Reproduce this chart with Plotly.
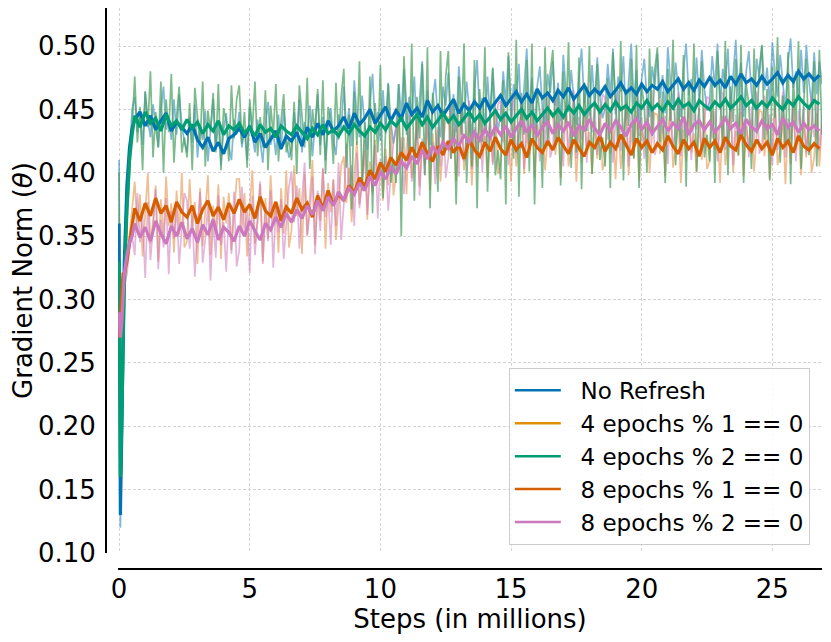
import plotly.graph_objects as go

# sample positions (millions of steps)
early_steps = [0, 0.05, 0.1, 0.15, 0.2, 0.3, 0.4, 0.5]
raw_steps = early_steps + [round(0.6 + 0.1 * i, 1) for i in range(264)]
smooth_steps = early_steps + [round(0.6 + 0.2 * i, 1) for i in range(132)]

# ---- raw (light) series, every 0.1M steps ----
no_refresh_raw = [0.41, 0.12, 0.18, 0.25, 0.31, 0.38, 0.42, 0.45,
    0.460, 0.432, 0.446, 0.422, 0.464, 0.442, 0.428, 0.454, 0.436, 0.420, 0.450, 0.468, 0.434, 0.444, 0.426, 0.458, 0.430, 0.462, 0.438, 0.424,
    0.416, 0.444, 0.424, 0.454, 0.412, 0.436, 0.426, 0.449, 0.409, 0.433, 0.458, 0.418, 0.440, 0.406, 0.434, 0.447, 0.421, 0.410, 0.442, 0.430,
    0.448, 0.420, 0.434, 0.410, 0.452, 0.430, 0.416, 0.442, 0.424, 0.408, 0.438, 0.456, 0.422, 0.432, 0.414, 0.446, 0.418, 0.450, 0.426, 0.412,
    0.420, 0.448, 0.428, 0.458, 0.416, 0.440, 0.430, 0.453, 0.413, 0.437, 0.462, 0.422, 0.444, 0.410, 0.438, 0.451, 0.425, 0.414, 0.446, 0.434,
    0.468, 0.433, 0.451, 0.421, 0.473, 0.445, 0.428, 0.461, 0.438, 0.418, 0.455, 0.478, 0.435, 0.448, 0.425, 0.465, 0.431, 0.471, 0.440, 0.423,
    0.435, 0.470, 0.445, 0.482, 0.430, 0.460, 0.448, 0.476, 0.426, 0.456, 0.488, 0.438, 0.465, 0.422, 0.458, 0.474, 0.441, 0.428, 0.468, 0.453,
    0.479, 0.444, 0.462, 0.432, 0.484, 0.456, 0.439, 0.472, 0.449, 0.429, 0.466, 0.489, 0.446, 0.459, 0.436, 0.476, 0.442, 0.482, 0.451, 0.434,
    0.445, 0.480, 0.455, 0.492, 0.440, 0.470, 0.458, 0.486, 0.436, 0.466, 0.498, 0.448, 0.475, 0.432, 0.468, 0.484, 0.451, 0.438, 0.478, 0.463,
    0.488, 0.453, 0.471, 0.441, 0.493, 0.465, 0.448, 0.481, 0.458, 0.438, 0.475, 0.498, 0.455, 0.468, 0.445, 0.485, 0.451, 0.491, 0.460, 0.443,
    0.451, 0.486, 0.461, 0.498, 0.446, 0.476, 0.464, 0.492, 0.442, 0.472, 0.502, 0.454, 0.481, 0.438, 0.474, 0.490, 0.457, 0.444, 0.484, 0.469,
    0.494, 0.459, 0.477, 0.447, 0.499, 0.471, 0.454, 0.487, 0.464, 0.444, 0.481, 0.502, 0.461, 0.474, 0.451, 0.491, 0.457, 0.497, 0.466, 0.449,
    0.457, 0.492, 0.467, 0.502, 0.452, 0.482, 0.470, 0.498, 0.448, 0.478, 0.505, 0.460, 0.487, 0.444, 0.480, 0.496, 0.463, 0.450, 0.490, 0.475,
    0.500, 0.465, 0.483, 0.453, 0.503, 0.477, 0.460, 0.493, 0.470, 0.450, 0.487, 0.506, 0.467, 0.480, 0.457, 0.497, 0.463, 0.501, 0.472, 0.455,
    0.495, 0.462, 0.488, 0.470]

e4m2_raw = [0.40, 0.15, 0.17, 0.24, 0.30, 0.36, 0.40, 0.44,
    0.476, 0.424, 0.452, 0.402, 0.464, 0.436, 0.480, 0.412, 0.448, 0.420, 0.472, 0.400, 0.458, 0.432, 0.478, 0.408, 0.444, 0.468, 0.416, 0.428,
    0.412, 0.455, 0.402, 0.467, 0.444, 0.421, 0.472, 0.405, 0.449, 0.432, 0.463, 0.416, 0.470, 0.402, 0.451, 0.441, 0.409, 0.469, 0.427, 0.458,
    0.469, 0.423, 0.448, 0.404, 0.458, 0.434, 0.472, 0.413, 0.444, 0.420, 0.465, 0.402, 0.453, 0.430, 0.470, 0.409, 0.441, 0.462, 0.416, 0.427,
    0.410, 0.456, 0.399, 0.469, 0.445, 0.420, 0.475, 0.403, 0.450, 0.431, 0.466, 0.414, 0.473, 0.399, 0.452, 0.441, 0.407, 0.471, 0.426, 0.460,
    0.482, 0.404, 0.446, 0.371, 0.464, 0.422, 0.488, 0.386, 0.440, 0.398, 0.476, 0.368, 0.455, 0.416, 0.485, 0.380, 0.434, 0.470, 0.392, 0.410,
    0.392, 0.470, 0.350, 0.492, 0.450, 0.408, 0.502, 0.378, 0.460, 0.427, 0.486, 0.398, 0.499, 0.372, 0.463, 0.444, 0.385, 0.496, 0.418, 0.476,
    0.496, 0.411, 0.457, 0.375, 0.476, 0.430, 0.502, 0.392, 0.450, 0.405, 0.489, 0.372, 0.466, 0.424, 0.499, 0.385, 0.444, 0.483, 0.398, 0.418,
    0.395, 0.473, 0.375, 0.495, 0.453, 0.411, 0.505, 0.381, 0.463, 0.430, 0.489, 0.401, 0.502, 0.375, 0.466, 0.447, 0.388, 0.499, 0.421, 0.479,
    0.497, 0.422, 0.462, 0.390, 0.480, 0.439, 0.503, 0.404, 0.457, 0.416, 0.491, 0.387, 0.471, 0.433, 0.500, 0.399, 0.451, 0.486, 0.410, 0.428,
    0.405, 0.475, 0.388, 0.495, 0.458, 0.420, 0.504, 0.394, 0.466, 0.437, 0.490, 0.411, 0.501, 0.388, 0.469, 0.452, 0.400, 0.498, 0.429, 0.481,
    0.499, 0.424, 0.464, 0.392, 0.482, 0.441, 0.505, 0.406, 0.459, 0.418, 0.493, 0.389, 0.473, 0.435, 0.502, 0.401, 0.453, 0.488, 0.412, 0.430,
    0.409, 0.476, 0.392, 0.496, 0.459, 0.423, 0.504, 0.398, 0.468, 0.440, 0.490, 0.414, 0.501, 0.392, 0.470, 0.454, 0.403, 0.498, 0.431, 0.482,
    0.501, 0.426, 0.466, 0.394, 0.484, 0.443, 0.507, 0.408, 0.461, 0.420, 0.495, 0.391, 0.475, 0.437, 0.504, 0.403, 0.455, 0.490, 0.414, 0.432,
    0.488, 0.405, 0.497, 0.430]

e4m1_raw = [0.30, 0.28, 0.30, 0.31, 0.32, 0.33, 0.35, 0.37,
    0.393, 0.355, 0.383, 0.334, 0.372, 0.400, 0.344, 0.362, 0.390, 0.330, 0.379, 0.348, 0.397, 0.358, 0.376, 0.337, 0.386, 0.351, 0.400, 0.341,
    0.346, 0.395, 0.356, 0.377, 0.328, 0.388, 0.342, 0.367, 0.398, 0.335, 0.374, 0.352, 0.391, 0.332, 0.381, 0.360, 0.384, 0.339, 0.370, 0.395,
    0.395, 0.355, 0.384, 0.334, 0.373, 0.402, 0.344, 0.362, 0.391, 0.330, 0.380, 0.348, 0.398, 0.359, 0.377, 0.337, 0.388, 0.352, 0.402, 0.341,
    0.355, 0.406, 0.366, 0.388, 0.336, 0.399, 0.351, 0.377, 0.410, 0.343, 0.384, 0.362, 0.403, 0.340, 0.392, 0.369, 0.395, 0.347, 0.380, 0.406,
    0.413, 0.376, 0.404, 0.361, 0.397, 0.425, 0.375, 0.392, 0.418, 0.363, 0.409, 0.385, 0.426, 0.394, 0.405, 0.378, 0.419, 0.390, 0.437, 0.382,
    0.399, 0.444, 0.409, 0.428, 0.383, 0.437, 0.396, 0.418, 0.447, 0.389, 0.425, 0.406, 0.441, 0.386, 0.431, 0.412, 0.434, 0.393, 0.421, 0.444,
    0.444, 0.411, 0.435, 0.393, 0.426, 0.450, 0.402, 0.417, 0.441, 0.390, 0.432, 0.405, 0.447, 0.414, 0.429, 0.396, 0.438, 0.408, 0.450, 0.399,
    0.408, 0.450, 0.417, 0.435, 0.393, 0.444, 0.405, 0.426, 0.453, 0.399, 0.432, 0.414, 0.447, 0.396, 0.438, 0.420, 0.441, 0.402, 0.429, 0.450,
    0.447, 0.414, 0.438, 0.396, 0.429, 0.453, 0.405, 0.420, 0.444, 0.393, 0.435, 0.408, 0.450, 0.417, 0.432, 0.399, 0.441, 0.411, 0.453, 0.402,
    0.410, 0.448, 0.415, 0.437, 0.395, 0.442, 0.403, 0.428, 0.451, 0.398, 0.434, 0.412, 0.449, 0.394, 0.436, 0.422, 0.443, 0.400, 0.431, 0.447,
    0.446, 0.415, 0.437, 0.397, 0.430, 0.452, 0.404, 0.421, 0.443, 0.392, 0.434, 0.409, 0.449, 0.416, 0.431, 0.400, 0.440, 0.410, 0.452, 0.403,
    0.409, 0.449, 0.418, 0.434, 0.392, 0.445, 0.406, 0.425, 0.452, 0.400, 0.433, 0.413, 0.448, 0.397, 0.437, 0.421, 0.442, 0.401, 0.430, 0.449,
    0.448, 0.413, 0.439, 0.395, 0.428, 0.454, 0.406, 0.419, 0.445, 0.391, 0.436, 0.407, 0.451, 0.418, 0.433, 0.398, 0.442, 0.412, 0.454, 0.400,
    0.412, 0.447, 0.405, 0.438]

e8m2_raw = [0.28, 0.26, 0.28, 0.30, 0.31, 0.32, 0.34, 0.35,
    0.335, 0.384, 0.345, 0.366, 0.317, 0.377, 0.331, 0.356, 0.387, 0.324, 0.363, 0.341, 0.380, 0.320, 0.370, 0.348, 0.373, 0.328, 0.359, 0.384,
    0.378, 0.340, 0.368, 0.318, 0.357, 0.385, 0.329, 0.347, 0.375, 0.315, 0.364, 0.333, 0.382, 0.343, 0.361, 0.322, 0.371, 0.336, 0.385, 0.326,
    0.339, 0.389, 0.350, 0.371, 0.321, 0.382, 0.335, 0.361, 0.393, 0.328, 0.368, 0.346, 0.386, 0.325, 0.375, 0.353, 0.379, 0.332, 0.364, 0.389,
    0.401, 0.361, 0.390, 0.340, 0.379, 0.408, 0.350, 0.368, 0.397, 0.336, 0.386, 0.354, 0.404, 0.365, 0.383, 0.343, 0.394, 0.358, 0.408, 0.347,
    0.375, 0.423, 0.385, 0.406, 0.358, 0.416, 0.372, 0.395, 0.426, 0.367, 0.402, 0.383, 0.422, 0.364, 0.411, 0.391, 0.413, 0.370, 0.399, 0.424,
    0.438, 0.402, 0.428, 0.383, 0.418, 0.446, 0.393, 0.410, 0.436, 0.382, 0.427, 0.398, 0.443, 0.408, 0.424, 0.391, 0.436, 0.405, 0.450, 0.396,
    0.412, 0.454, 0.421, 0.439, 0.397, 0.448, 0.409, 0.430, 0.457, 0.403, 0.436, 0.418, 0.451, 0.400, 0.442, 0.424, 0.445, 0.406, 0.433, 0.454,
    0.457, 0.424, 0.448, 0.406, 0.439, 0.463, 0.415, 0.430, 0.454, 0.403, 0.445, 0.418, 0.460, 0.427, 0.442, 0.409, 0.451, 0.421, 0.463, 0.412,
    0.420, 0.462, 0.429, 0.447, 0.405, 0.456, 0.417, 0.438, 0.465, 0.411, 0.444, 0.426, 0.459, 0.408, 0.450, 0.432, 0.453, 0.414, 0.441, 0.462,
    0.459, 0.426, 0.450, 0.408, 0.441, 0.465, 0.417, 0.432, 0.456, 0.405, 0.447, 0.420, 0.462, 0.429, 0.444, 0.411, 0.453, 0.423, 0.465, 0.414,
    0.422, 0.460, 0.431, 0.445, 0.407, 0.454, 0.419, 0.436, 0.463, 0.413, 0.442, 0.428, 0.457, 0.410, 0.448, 0.434, 0.451, 0.416, 0.443, 0.460,
    0.458, 0.427, 0.449, 0.409, 0.440, 0.464, 0.418, 0.431, 0.455, 0.406, 0.446, 0.421, 0.461, 0.430, 0.443, 0.412, 0.452, 0.424, 0.464, 0.415,
    0.421, 0.461, 0.430, 0.446, 0.406, 0.455, 0.418, 0.437, 0.464, 0.412, 0.443, 0.427, 0.458, 0.409, 0.449, 0.433, 0.452, 0.415, 0.442, 0.461,
    0.428, 0.455, 0.417, 0.446]

# ---- smoothed (dark) series, every 0.2M steps ----
no_refresh = [0.36, 0.13, 0.19, 0.27, 0.33, 0.39, 0.42, 0.435,
    0.442, 0.448, 0.437, 0.445, 0.434, 0.441, 0.447, 0.433, 0.440, 0.436,
    0.431, 0.438, 0.426, 0.420, 0.428, 0.417, 0.424, 0.415, 0.427, 0.430,
    0.435, 0.428, 0.437, 0.424, 0.431, 0.420, 0.427, 0.433, 0.419, 0.429,
    0.425, 0.432, 0.421, 0.436, 0.428, 0.439, 0.430, 0.441, 0.433, 0.437,
    0.444, 0.435, 0.447, 0.438, 0.443, 0.450, 0.439, 0.446, 0.452, 0.441,
    0.449, 0.443, 0.455, 0.446, 0.451, 0.444, 0.457, 0.448, 0.453, 0.445,
    0.452, 0.458, 0.447, 0.454, 0.449, 0.456, 0.451, 0.459, 0.450, 0.455,
    0.461, 0.453, 0.458, 0.464, 0.456, 0.462, 0.455, 0.466, 0.459, 0.463,
    0.457, 0.465, 0.460, 0.467, 0.458, 0.463, 0.469, 0.461, 0.466, 0.462,
    0.468, 0.460, 0.465, 0.471, 0.463, 0.467, 0.462, 0.470, 0.464, 0.469,
    0.466, 0.472, 0.464, 0.469, 0.474, 0.466, 0.471, 0.465, 0.473, 0.468,
    0.475, 0.469, 0.473, 0.467, 0.476, 0.470, 0.478, 0.471, 0.474, 0.469,
    0.476, 0.470, 0.474, 0.479, 0.471, 0.477, 0.472, 0.480, 0.474, 0.478,
    0.473, 0.477]

e4m2 = [0.33, 0.16, 0.20, 0.26, 0.31, 0.37, 0.41, 0.43,
    0.445, 0.436, 0.448, 0.439, 0.443, 0.433, 0.446, 0.437, 0.441, 0.434,
    0.442, 0.435, 0.440, 0.431, 0.438, 0.433, 0.441, 0.430, 0.437, 0.434,
    0.439, 0.431, 0.436, 0.429, 0.438, 0.432, 0.435, 0.428, 0.437, 0.433,
    0.430, 0.437, 0.432, 0.427, 0.435, 0.430, 0.438, 0.431, 0.434, 0.429,
    0.436, 0.431, 0.438, 0.433, 0.429, 0.436, 0.432, 0.439, 0.434, 0.441,
    0.437, 0.443, 0.435, 0.440, 0.446, 0.438, 0.444, 0.436, 0.442, 0.447,
    0.440, 0.445, 0.438, 0.443, 0.448, 0.441, 0.446, 0.439, 0.444, 0.449,
    0.442, 0.447, 0.440, 0.445, 0.450, 0.443, 0.448, 0.441, 0.446, 0.451,
    0.445, 0.450, 0.444, 0.452, 0.447, 0.453, 0.446, 0.451, 0.455, 0.448,
    0.454, 0.449, 0.456, 0.450, 0.453, 0.448, 0.455, 0.451, 0.457, 0.450,
    0.454, 0.449, 0.456, 0.451, 0.458, 0.452, 0.455, 0.449, 0.457, 0.453,
    0.450, 0.456, 0.452, 0.458, 0.451, 0.455, 0.460, 0.453, 0.457, 0.451,
    0.456, 0.452, 0.459, 0.454, 0.450, 0.457, 0.453, 0.460, 0.455, 0.451,
    0.457, 0.454]

e8m1 = [0.27, 0.29, 0.31, 0.32, 0.32, 0.33, 0.345, 0.36,
    0.372, 0.362, 0.376, 0.366, 0.380, 0.368, 0.374, 0.361, 0.377, 0.369,
    0.365, 0.374, 0.360, 0.371, 0.378, 0.366, 0.373, 0.363, 0.376, 0.368,
    0.379, 0.369, 0.375, 0.364, 0.381, 0.370, 0.366, 0.377, 0.362, 0.373,
    0.368, 0.380, 0.371, 0.376, 0.365, 0.382, 0.372, 0.386, 0.375, 0.383,
    0.378, 0.390, 0.384, 0.396, 0.389, 0.402, 0.395, 0.408, 0.401, 0.412,
    0.406, 0.416, 0.410, 0.420, 0.412, 0.424, 0.415, 0.409, 0.421, 0.414,
    0.425, 0.416, 0.422, 0.411, 0.426, 0.418, 0.413, 0.424, 0.417, 0.428,
    0.419, 0.414, 0.426, 0.418, 0.423, 0.412, 0.427, 0.420, 0.416, 0.425,
    0.418, 0.428, 0.421, 0.415, 0.426, 0.419, 0.413, 0.424, 0.420, 0.429,
    0.417, 0.424, 0.419, 0.430, 0.422, 0.414, 0.427, 0.420, 0.425, 0.416,
    0.423, 0.418, 0.429, 0.421, 0.415, 0.426, 0.419, 0.424, 0.413, 0.427,
    0.420, 0.425, 0.416, 0.428, 0.421, 0.418, 0.430, 0.422, 0.417, 0.426,
    0.419, 0.424, 0.414, 0.427, 0.420, 0.425, 0.416, 0.429, 0.421, 0.418,
    0.423, 0.419]

e8m2 = [0.29, 0.27, 0.28, 0.30, 0.32, 0.335, 0.345, 0.35,
    0.360, 0.349, 0.357, 0.346, 0.362, 0.352, 0.344, 0.358, 0.350, 0.361,
    0.348, 0.356, 0.345, 0.359, 0.351, 0.363, 0.347, 0.357, 0.353, 0.346,
    0.358, 0.350, 0.362, 0.354, 0.347, 0.360, 0.355, 0.365, 0.357, 0.368,
    0.361, 0.371, 0.364, 0.374, 0.367, 0.378, 0.370, 0.381, 0.374, 0.385,
    0.378, 0.388, 0.383, 0.392, 0.386, 0.397, 0.390, 0.401, 0.395, 0.405,
    0.399, 0.409, 0.404, 0.413, 0.407, 0.418, 0.411, 0.421, 0.415, 0.424,
    0.419, 0.427, 0.421, 0.430, 0.424, 0.432, 0.426, 0.434, 0.428, 0.436,
    0.430, 0.437, 0.428, 0.435, 0.441, 0.432, 0.438, 0.429, 0.436, 0.440,
    0.431, 0.438, 0.433, 0.440, 0.429, 0.437, 0.434, 0.442, 0.435, 0.430,
    0.439, 0.433, 0.441, 0.436, 0.429, 0.438, 0.443, 0.434, 0.440, 0.431,
    0.437, 0.442, 0.433, 0.439, 0.435, 0.444, 0.430, 0.438, 0.441, 0.434,
    0.440, 0.432, 0.437, 0.443, 0.435, 0.439, 0.431, 0.442, 0.436, 0.433,
    0.441, 0.435, 0.438, 0.430, 0.443, 0.436, 0.440, 0.432, 0.439, 0.434,
    0.437, 0.433]

labels = ["No Refresh", "4 epochs % 1 == 0", "4 epochs % 2 == 0",
          "8 epochs % 1 == 0", "8 epochs % 2 == 0"]
colors = ["#0173b2", "#de8f05", "#029e73", "#d55e00", "#cc78bc"]

y_ticks = [0.10, 0.15, 0.20, 0.25, 0.30, 0.35, 0.40, 0.45, 0.50]
x_ticks = [0, 5, 10, 15, 20, 25]

fig = go.Figure()

raw_layers = [
    (no_refresh_raw, "rgba(1,115,178,0.5)"),
    (e4m1_raw, "rgba(225,125,40,0.5)"),
    (e8m2_raw, "rgba(204,120,188,0.55)"),
    (e4m2_raw, "rgba(75,160,95,0.72)"),
]
for ys, col in raw_layers:
    fig.add_trace(go.Scatter(x=raw_steps, y=ys, mode="lines", showlegend=False,
                             hoverinfo="skip", line=dict(color=col, width=1.7)))

dark_layers = [(no_refresh, colors[0]), (e4m2, colors[2]),
               (e8m1, colors[3]), (e8m2, colors[4])]
for ys, col in dark_layers:
    fig.add_trace(go.Scatter(x=smooth_steps, y=ys, mode="lines", showlegend=False,
                             hoverinfo="skip", line=dict(color=col, width=3.2)))

# legend entries
for i, (lab, col) in enumerate(zip(labels, colors)):
    fig.add_trace(go.Scatter(x=[None], y=[None], mode="lines",
                             name="\u00a0\u00a0" + lab,
                             legendgroup=f"g{i}", line=dict(color=col, width=2.5)))

font_family = "DejaVu Sans"
grid_color = "#d4d4d4"
fig.update_layout(
    width=823, height=634,
    margin=dict(l=98, r=9, t=0, b=73),
    paper_bgcolor="white", plot_bgcolor="white",
    font=dict(family=font_family, size=26, color="black"),
    showlegend=True,
    legend=dict(x=0.983, y=0.043, xanchor="right", yanchor="bottom",
                font=dict(family=font_family, size=23, color="black"),
                bgcolor="rgba(255,255,255,0.85)", bordercolor="#cccccc",
                borderwidth=1, tracegroupgap=0, traceorder="grouped",
                itemwidth=46),
    xaxis=dict(domain=[0.0168, 1], range=[-0.04, 26.9], anchor="free", position=0,
               tickvals=x_ticks, ticks="", showline=True, linecolor="black",
               linewidth=2, showgrid=True, gridcolor=grid_color, gridwidth=0.8,
               griddash="3px,2px", zeroline=False, ticklabelstandoff=-3,
               title=dict(text="Steps (in millions)", standoff=2,
                          font=dict(size=26)),
               tickfont=dict(size=26)),
    yaxis=dict(domain=[0.0285, 1], range=[0.10, 0.53], anchor="free", position=0,
               tickvals=y_ticks, tickformat=".2f", ticks="", showline=True,
               linecolor="black", linewidth=2, showgrid=True,
               gridcolor=grid_color, gridwidth=0.8, griddash="3px,2px",
               zeroline=False, ticklabelstandoff=4,
               title=dict(text="Gradient Norm (<i>θ</i>)", standoff=6,
                          font=dict(size=26)),
               tickfont=dict(size=26)),
)

fig.write_html("out.html")
